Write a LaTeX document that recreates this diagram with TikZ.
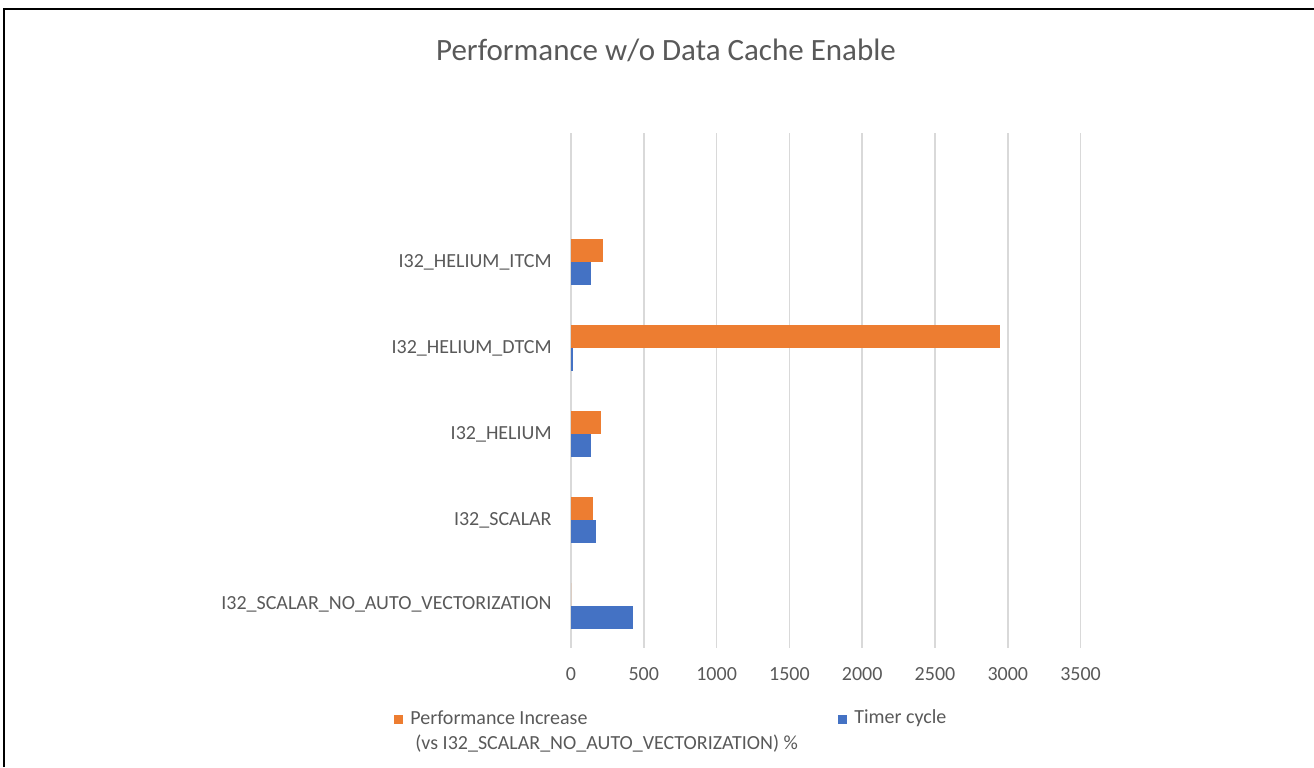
\documentclass[tikz,border=0pt]{standalone}
\usepackage{fontspec}
\setmainfont{Carlito}

\definecolor{perforange}{HTML}{ED7D31}
\definecolor{timerblue}{HTML}{4472C4}
\definecolor{gridgray}{HTML}{D9D9D9}
\definecolor{labelgray}{HTML}{595959}

\begin{document}
\begin{tikzpicture}[x=0.5pt, y=-0.5pt]
        \useasboundingbox (0,0) rectangle (1314,767);
        \draw[line width=1pt] (4,767) -- (4,9) -- (1314,9);

        \node (title) [text=labelgray] at (666,50) {\fontsize{15.5}{18}\selectfont Performance w/o Data Cache Enable};

        % value axis: 0 sits at x=571, 500 per 72.8
        \begin{scope}[xshift=285.5pt, x=0.0728pt,
                      every node/.style={text=labelgray, font=\fontsize{10}{12}\selectfont}]
            \foreach \v in {0,500,...,3500} {
                \draw[gridgray, line width=0.75pt] (\v,133) -- (\v,648);
                \node (tick\v) at (\v,674) {\v};
            }
            \foreach \name/\cy/\perf/\timer in {ITCM/262/218/138, DTCM/348/2945/12, HELIUM/434/209/138, SCALAR/520/151/174, NOAUTO/606/0/425} {
                \fill[perforange] (0,\cy-23) rectangle (\perf,\cy);
                \fill[timerblue] (0,\cy) rectangle (\timer,\cy+23);
            }
        \end{scope}

        \begin{scope}[every node/.style={text=labelgray, anchor=east, inner sep=0pt, font=\fontsize{10}{12}\selectfont}]
            \node (catITCM) at (552,262) {I32\_HELIUM\_ITCM};
            \node (catDTCM) at (552,348) {I32\_HELIUM\_DTCM};
            \node (catHELIUM) at (552,434) {I32\_HELIUM};
            \node (catSCALAR) at (552,520) {I32\_SCALAR};
            \node (catNOAUTO) at (552,604) {I32\_SCALAR\_NO\_AUTO\_VECTORIZATION};
        \end{scope}

        % legend
        \begin{scope}[every node/.style={text=labelgray, font=\fontsize{10}{12.5}\selectfont}]
            \node (keyperf) [fill=perforange, minimum size=4.5pt, inner sep=0pt] at (398.5,719.5) {};
            \node (legperf) [anchor=north west, align=left, inner sep=0pt] at (410,710)
                {Performance Increase\\\hspace*{2.5pt}(vs I32\_SCALAR\_NO\_AUTO\_VECTORIZATION) \%};
            \node (keytimer) [fill=timerblue, minimum size=4.5pt, inner sep=0pt] at (842,719.5) {};
            \node (legtimer) [anchor=west, inner sep=0pt] at (854,718) {Timer cycle};
        \end{scope}
    \end{tikzpicture}
\end{document}
